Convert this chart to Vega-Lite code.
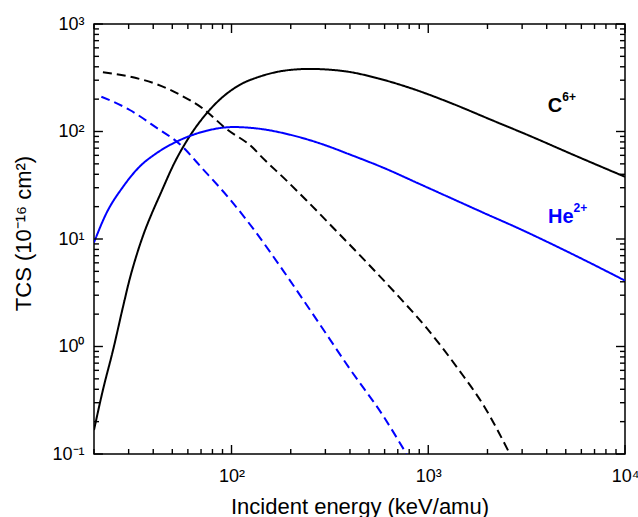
{
  "$schema": "https://vega.github.io/schema/vega-lite/v6.json",
  "width": 531,
  "height": 430,
  "autosize": {"type": "none"},
  "padding": {"left": 94, "top": 24, "right": 13, "bottom": 63},
  "background": "white",
  "config": {
    "view": {"stroke": "black", "strokeWidth": 1.5, "fill": null},
    "axis": {
      "grid": false,
      "domain": false,
      "ticks": false,
      "labelFont": "Liberation Sans",
      "labelFontSize": 18,
      "labelColor": "black",
      "titleFont": "Liberation Sans",
      "titleFontSize": 22,
      "titleFontWeight": "normal",
      "titleColor": "black"
    }
  },
  "datasets": {
    "curves": [
      {"series": "C6+", "style": "solid", "E": 20, "TCS": 0.167},
      {"series": "C6+", "style": "solid", "E": 22.2, "TCS": 0.394},
      {"series": "C6+", "style": "solid", "E": 25, "TCS": 0.927},
      {"series": "C6+", "style": "solid", "E": 28.1, "TCS": 2.35},
      {"series": "C6+", "style": "solid", "E": 30.4, "TCS": 4.27},
      {"series": "C6+", "style": "solid", "E": 32.9, "TCS": 7.05},
      {"series": "C6+", "style": "solid", "E": 35.8, "TCS": 11.2},
      {"series": "C6+", "style": "solid", "E": 39.3, "TCS": 17.2},
      {"series": "C6+", "style": "solid", "E": 43.2, "TCS": 25.5},
      {"series": "C6+", "style": "solid", "E": 51.5, "TCS": 51.9},
      {"series": "C6+", "style": "solid", "E": 61.4, "TCS": 90.8},
      {"series": "C6+", "style": "solid", "E": 74.6, "TCS": 147},
      {"series": "C6+", "style": "solid", "E": 90.6, "TCS": 211},
      {"series": "C6+", "style": "solid", "E": 110, "TCS": 271},
      {"series": "C6+", "style": "solid", "E": 139, "TCS": 324},
      {"series": "C6+", "style": "solid", "E": 170, "TCS": 358},
      {"series": "C6+", "style": "solid", "E": 205, "TCS": 376},
      {"series": "C6+", "style": "solid", "E": 250, "TCS": 382},
      {"series": "C6+", "style": "solid", "E": 300, "TCS": 378},
      {"series": "C6+", "style": "solid", "E": 391, "TCS": 360},
      {"series": "C6+", "style": "solid", "E": 556, "TCS": 312},
      {"series": "C6+", "style": "solid", "E": 820, "TCS": 252},
      {"series": "C6+", "style": "solid", "E": 1312, "TCS": 183},
      {"series": "C6+", "style": "solid", "E": 2096, "TCS": 128},
      {"series": "C6+", "style": "solid", "E": 3350, "TCS": 89.6},
      {"series": "C6+", "style": "solid", "E": 5350, "TCS": 61.7},
      {"series": "C6+", "style": "solid", "E": 10000, "TCS": 37.9},
      {"series": "He2+", "style": "solid", "E": 20, "TCS": 9.3},
      {"series": "He2+", "style": "solid", "E": 23.1, "TCS": 17.3},
      {"series": "He2+", "style": "solid", "E": 28.1, "TCS": 30.6},
      {"series": "He2+", "style": "solid", "E": 34.1, "TCS": 47.1},
      {"series": "He2+", "style": "solid", "E": 41.5, "TCS": 62.7},
      {"series": "He2+", "style": "solid", "E": 50.5, "TCS": 77.6},
      {"series": "He2+", "style": "solid", "E": 61.4, "TCS": 90.8},
      {"series": "He2+", "style": "solid", "E": 74.6, "TCS": 101.6},
      {"series": "He2+", "style": "solid", "E": 102, "TCS": 110},
      {"series": "He2+", "style": "solid", "E": 139, "TCS": 106},
      {"series": "He2+", "style": "solid", "E": 200, "TCS": 93},
      {"series": "He2+", "style": "solid", "E": 281, "TCS": 77.6},
      {"series": "He2+", "style": "solid", "E": 406, "TCS": 60.4},
      {"series": "He2+", "style": "solid", "E": 600, "TCS": 45.5},
      {"series": "He2+", "style": "solid", "E": 887, "TCS": 33},
      {"series": "He2+", "style": "solid", "E": 1312, "TCS": 23.9},
      {"series": "He2+", "style": "solid", "E": 1940, "TCS": 17.3},
      {"series": "He2+", "style": "solid", "E": 2866, "TCS": 12.6},
      {"series": "He2+", "style": "solid", "E": 4230, "TCS": 9.0},
      {"series": "He2+", "style": "solid", "E": 6250, "TCS": 6.34},
      {"series": "He2+", "style": "solid", "E": 10000, "TCS": 4.1},
      {"series": "C6+", "style": "dashed", "E": 22.2, "TCS": 355},
      {"series": "C6+", "style": "dashed", "E": 30.4, "TCS": 324},
      {"series": "C6+", "style": "dashed", "E": 41.5, "TCS": 276},
      {"series": "C6+", "style": "dashed", "E": 54.6, "TCS": 220},
      {"series": "C6+", "style": "dashed", "E": 71.7, "TCS": 163},
      {"series": "C6+", "style": "dashed", "E": 94.3, "TCS": 105.5},
      {"series": "C6+", "style": "dashed", "E": 128.8, "TCS": 70.2},
      {"series": "C6+", "style": "dashed", "E": 139.3, "TCS": 60.4},
      {"series": "C6+", "style": "dashed", "E": 190.5, "TCS": 34.9},
      {"series": "C6+", "style": "dashed", "E": 240.8, "TCS": 22.8},
      {"series": "C6+", "style": "dashed", "E": 342.2, "TCS": 11.8},
      {"series": "C6+", "style": "dashed", "E": 486.4, "TCS": 6.06},
      {"series": "C6+", "style": "dashed", "E": 691.3, "TCS": 3.05},
      {"series": "C6+", "style": "dashed", "E": 982.6, "TCS": 1.48},
      {"series": "C6+", "style": "dashed", "E": 1418, "TCS": 0.62},
      {"series": "C6+", "style": "dashed", "E": 1939, "TCS": 0.271},
      {"series": "C6+", "style": "dashed", "E": 2599, "TCS": 0.1},
      {"series": "He2+", "style": "dashed", "E": 21.8, "TCS": 210.7},
      {"series": "He2+", "style": "dashed", "E": 30.4, "TCS": 158.5},
      {"series": "He2+", "style": "dashed", "E": 41.5, "TCS": 108.7},
      {"series": "He2+", "style": "dashed", "E": 54.6, "TCS": 76.2},
      {"series": "He2+", "style": "dashed", "E": 71.7, "TCS": 44.5},
      {"series": "He2+", "style": "dashed", "E": 98, "TCS": 23.5},
      {"series": "He2+", "style": "dashed", "E": 131.4, "TCS": 11.9},
      {"series": "He2+", "style": "dashed", "E": 183, "TCS": 5.08},
      {"series": "He2+", "style": "dashed", "E": 270.7, "TCS": 1.78},
      {"series": "He2+", "style": "dashed", "E": 400, "TCS": 0.617},
      {"series": "He2+", "style": "dashed", "E": 591, "TCS": 0.225},
      {"series": "He2+", "style": "dashed", "E": 775.5, "TCS": 0.1}
    ],
    "labels": [
      {"series": "C6+", "base": "C", "sup": "6+", "E": 4800, "TCS": 153},
      {"series": "He2+", "base": "He", "sup": "2+", "E": 5480, "TCS": 14.0}
    ],
    "xMajor": [{"v": 100}, {"v": 1000}, {"v": 10000}],
    "xMinor": [{"v": 20}, {"v": 30}, {"v": 40}, {"v": 50}, {"v": 60}, {"v": 70}, {"v": 80}, {"v": 90}, {"v": 200}, {"v": 300}, {"v": 400}, {"v": 500}, {"v": 600}, {"v": 700}, {"v": 800}, {"v": 900}, {"v": 2000}, {"v": 3000}, {"v": 4000}, {"v": 5000}, {"v": 6000}, {"v": 7000}, {"v": 8000}, {"v": 9000}],
    "yMajor": [{"v": 0.1}, {"v": 1}, {"v": 10}, {"v": 100}, {"v": 1000}],
    "yMinor": [{"v": 0.2}, {"v": 0.3}, {"v": 0.4}, {"v": 0.5}, {"v": 0.6}, {"v": 0.7}, {"v": 0.8}, {"v": 0.9}, {"v": 2}, {"v": 3}, {"v": 4}, {"v": 5}, {"v": 6}, {"v": 7}, {"v": 8}, {"v": 9}, {"v": 20}, {"v": 30}, {"v": 40}, {"v": 50}, {"v": 60}, {"v": 70}, {"v": 80}, {"v": 90}, {"v": 200}, {"v": 300}, {"v": 400}, {"v": 500}, {"v": 600}, {"v": 700}, {"v": 800}, {"v": 900}]
  },
  "layer": [
    {
      "data": {"name": "curves"},
      "mark": {"type": "line", "strokeWidth": 2, "clip": true, "interpolate": "monotone"},
      "encoding": {
        "x": {
          "field": "E", "type": "quantitative",
          "scale": {"type": "log", "domain": [20, 10000], "nice": false},
          "axis": {
            "orient": "bottom",
            "title": "Incident energy (keV/amu)",
            "titleY": 59,
            "titleBaseline": "alphabetic",
            "values": [100, 1000, 10000],
            "labelPadding": 27,
            "labelFlush": false,
            "labelOverlap": false,
            "labelBaseline": "alphabetic",
            "labelExpr": "'10' + ['⁻¹','⁰','¹','²','³','⁴'][round(log(datum.value)/LN10)+1]"
          }
        },
        "y": {
          "field": "TCS", "type": "quantitative",
          "scale": {"type": "log", "domain": [0.1, 1000], "nice": false},
          "axis": {
            "orient": "left",
            "title": "TCS (10⁻¹⁶ cm²)",
            "titleX": -64,
            "titleY": 209,
            "titleAlign": "center",
            "titleAngle": -90,
            "titleBaseline": "alphabetic",
            "values": [0.1, 1, 10, 100, 1000],
            "labelPadding": 10,
            "labelFlush": false,
            "labelOverlap": false,
            "labelExpr": "'10' + ['⁻¹','⁰','¹','²','³','⁴'][round(log(datum.value)/LN10)+1]"
          }
        },
        "color": {
          "field": "series", "type": "nominal",
          "scale": {"domain": ["C6+", "He2+"], "range": ["black", "#0000ff"]},
          "legend": null
        },
        "strokeDash": {
          "field": "style", "type": "nominal",
          "scale": {"domain": ["solid", "dashed"], "range": [[1, 0], [9, 5]]},
          "legend": null
        }
      }
    },
    {
      "data": {"name": "xMajor"},
      "mark": {"type": "rule", "stroke": "black", "strokeWidth": 1.4},
      "encoding": {"x": {"field": "v", "type": "quantitative"}, "y": {"datum": 0.1}, "y2": {"datum": 0.1213}}
    },
    {
      "data": {"name": "xMinor"},
      "mark": {"type": "rule", "stroke": "black", "strokeWidth": 1.4},
      "encoding": {"x": {"field": "v", "type": "quantitative"}, "y": {"datum": 0.1}, "y2": {"datum": 0.1113}}
    },
    {
      "data": {"name": "xMajor"},
      "mark": {"type": "rule", "stroke": "black", "strokeWidth": 1.4},
      "encoding": {"x": {"field": "v", "type": "quantitative"}, "y": {"datum": 1000}, "y2": {"datum": 824.5}}
    },
    {
      "data": {"name": "xMinor"},
      "mark": {"type": "rule", "stroke": "black", "strokeWidth": 1.4},
      "encoding": {"x": {"field": "v", "type": "quantitative"}, "y": {"datum": 1000}, "y2": {"datum": 898.5}}
    },
    {
      "data": {"name": "yMajor"},
      "mark": {"type": "rule", "stroke": "black", "strokeWidth": 1.4},
      "encoding": {"y": {"field": "v", "type": "quantitative"}, "x": {"datum": 20}, "x2": {"datum": 22.2}}
    },
    {
      "data": {"name": "yMinor"},
      "mark": {"type": "rule", "stroke": "black", "strokeWidth": 1.4},
      "encoding": {"y": {"field": "v", "type": "quantitative"}, "x": {"datum": 20}, "x2": {"datum": 21.2}}
    },
    {
      "data": {"name": "yMajor"},
      "mark": {"type": "rule", "stroke": "black", "strokeWidth": 1.4},
      "encoding": {"y": {"field": "v", "type": "quantitative"}, "x": {"datum": 10000}, "x2": {"datum": 9001}}
    },
    {
      "data": {"name": "yMinor"},
      "mark": {"type": "rule", "stroke": "black", "strokeWidth": 1.4},
      "encoding": {"y": {"field": "v", "type": "quantitative"}, "x": {"datum": 10000}, "x2": {"datum": 9431}}
    },
    {
      "data": {"name": "labels"},
      "mark": {"type": "text", "align": "right", "baseline": "alphabetic", "font": "Liberation Sans", "fontSize": 20, "fontWeight": "bold"},
      "encoding": {
        "x": {"field": "E", "type": "quantitative"},
        "y": {"field": "TCS", "type": "quantitative"},
        "text": {"field": "base"},
        "color": {"field": "series", "type": "nominal", "legend": null}
      }
    },
    {
      "data": {"name": "labels"},
      "mark": {"type": "text", "align": "left", "baseline": "alphabetic", "dy": -11, "font": "Liberation Sans", "fontSize": 12, "fontWeight": "bold"},
      "encoding": {
        "x": {"field": "E", "type": "quantitative"},
        "y": {"field": "TCS", "type": "quantitative"},
        "text": {"field": "sup"},
        "color": {"field": "series", "type": "nominal", "legend": null}
      }
    }
  ]
}
